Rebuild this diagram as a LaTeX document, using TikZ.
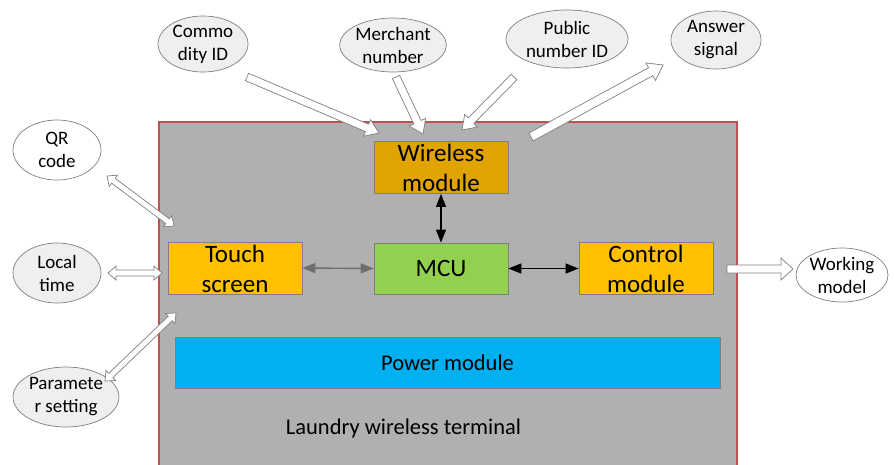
\documentclass[tikz,border=0pt]{standalone}
\usepackage{fontspec}
\setmainfont{Carlito}
\usetikzlibrary{calc,arrows.meta,shapes.geometric}
\definecolor{termgray}{HTML}{B0B0B0}
\definecolor{termred}{HTML}{C0504D}
\definecolor{wirecol}{HTML}{E0A400}
\definecolor{ambercol}{HTML}{FFC000}
\definecolor{mcucol}{HTML}{92D050}
\definecolor{powcol}{HTML}{00B0F0}
\definecolor{ellfill}{HTML}{EFEFEF}
\definecolor{edgegray}{HTML}{7F7F7F}
\definecolor{linkgray}{HTML}{6F6F6F}
\tikzset{
  modbox/.style={draw=edgegray, line width=0.8pt, inner sep=0pt, minimum width=134pt, minimum height=51pt, align=center, font=\fontsize{25}{30}\selectfont},
  twoline/.style={text height=50pt, text depth=2pt},
  bubble/.style={ellipse, draw=edgegray, line width=0.7pt, fill=ellfill, inner sep=0pt, align=center, font=\fontsize{19}{23}\selectfont},
  hollow/.style={draw=edgegray, line width=0.7pt, fill=white, line join=miter},
  duplex/.style={line width=1.4pt, {Triangle[length=13pt,width=10pt]}-{Triangle[length=13pt,width=10pt]}, shorten >=0pt, shorten <=0pt}
}
% single block arrow: #1 tail, #2 tip, #3 shaft half width, #4 head half width, #5 head length
\newcommand\blockarrow[5]{%
  \coordinate (ba@m) at ($(#2)!#5!(#1)$);
  \draw[hollow] ($(#1)!#3!90:(#2)$) -- ($(ba@m)!#3!-90:(#1)$) -- ($(ba@m)!#4!-90:(#1)$) -- (#2)
    -- ($(ba@m)!#4!90:(#1)$) -- ($(ba@m)!#3!90:(#1)$) -- ($(#1)!#3!-90:(#2)$) -- cycle;
}
% double block arrow
\newcommand\dblockarrow[5]{%
  \coordinate (da@a) at ($(#1)!#5!(#2)$);
  \coordinate (da@b) at ($(#2)!#5!(#1)$);
  \draw[hollow] (#1) -- ($(da@a)!#4!90:(#2)$) -- ($(da@a)!#3!90:(#2)$) -- ($(da@b)!#3!-90:(#1)$)
    -- ($(da@b)!#4!-90:(#1)$) -- (#2) -- ($(da@b)!#4!90:(#1)$) -- ($(da@b)!#3!90:(#1)$)
    -- ($(da@a)!#3!-90:(#2)$) -- ($(da@a)!#4!-90:(#2)$) -- cycle;
}
\begin{document}
\begin{tikzpicture}[x=1pt,y=-1pt]
\useasboundingbox (0,0) rectangle (894,464);
% terminal
\path[fill=termgray, draw=termred, line width=1.2pt] (159,122) rectangle (737,475);
\node[font=\fontsize{22.5}{27}\selectfont] (lwt) at (403.5,428) {Laundry wireless terminal};
% modules
\node[modbox, twoline, fill=wirecol] (wm) at (441,167.5) {Wireless\\module};
\node[modbox, fill=mcucol] (mcu) at (441,268.5) {MCU};
\node[modbox, twoline, fill=ambercol, minimum height=52pt] (ts) at (235,268) {Touch\\screen};
\node[modbox, twoline, fill=ambercol] (cm) at (646,268.5) {Control\\module};
\node[modbox, fill=powcol, minimum width=545pt, font=\fontsize{22.5}{27}\selectfont] (pm) at (447.5,362.5) {Power module};
% bubbles
\node[bubble, minimum width=90pt, minimum height=56pt] (com) at (203,44) {Commo\\dity ID};
\node[bubble, minimum width=106pt, minimum height=54pt] (mer) at (393,45) {Merchant\\number};
\node[bubble, minimum width=122pt, minimum height=58pt] (pub) at (567,39) {Public\\number ID};
\node[bubble, minimum width=90pt, minimum height=58pt] (ans) at (716,40) {Answer\\signal};
\node[bubble, fill=white, minimum width=88pt, minimum height=60pt] (qr) at (57,150) {QR\\code};
\node[bubble, minimum width=88pt, minimum height=60pt] (lt) at (57,273) {Local\\time};
\node[bubble, minimum width=106pt, minimum height=60pt] (ps) at (66,397) {Paramete\\r setting};
\node[bubble, fill=white, minimum width=92pt, minimum height=54pt] (wk) at (842,275) {Working\\model};
% internal links
\draw[duplex] (wm.south) -- (mcu.north);
\draw[duplex, linkgray] (ts.east) -- (mcu.west);
\draw[duplex] (mcu.east) -- (cm.west);
% block arrow end points
\coordinate (comT) at (247,77);
\coordinate (comH) at (379,133);
\coordinate (merT) at (396,77);
\coordinate (merH) at (423,134);
\coordinate (pubT) at (514,77);
\coordinate (pubH) at (462,130);
\coordinate (ansT) at (531,137);
\coordinate (ansH) at (663,65);
\coordinate (qrA) at (107,176);
\coordinate (qrB) at (174,226);
\coordinate (ltA) at (108,273);
\coordinate (ltB) at (162,273);
\coordinate (psA) at (105,381);
\coordinate (psB) at (176,313);
\coordinate (wkT) at (727,269);
\coordinate (wkH) at (793,269);
\blockarrow{comT}{comH}{4pt}{9pt}{13pt}
\blockarrow{merT}{merH}{4pt}{9pt}{13pt}
\blockarrow{pubT}{pubH}{4pt}{9pt}{13pt}
\blockarrow{ansT}{ansH}{4.5pt}{10pt}{14pt}
\dblockarrow{qrA}{qrB}{3pt}{7pt}{8pt}
\dblockarrow{ltA}{ltB}{3pt}{7pt}{8pt}
\dblockarrow{psA}{psB}{3pt}{7pt}{8pt}
\blockarrow{wkT}{wkH}{4pt}{11pt}{12pt}
\end{tikzpicture}
\end{document}
